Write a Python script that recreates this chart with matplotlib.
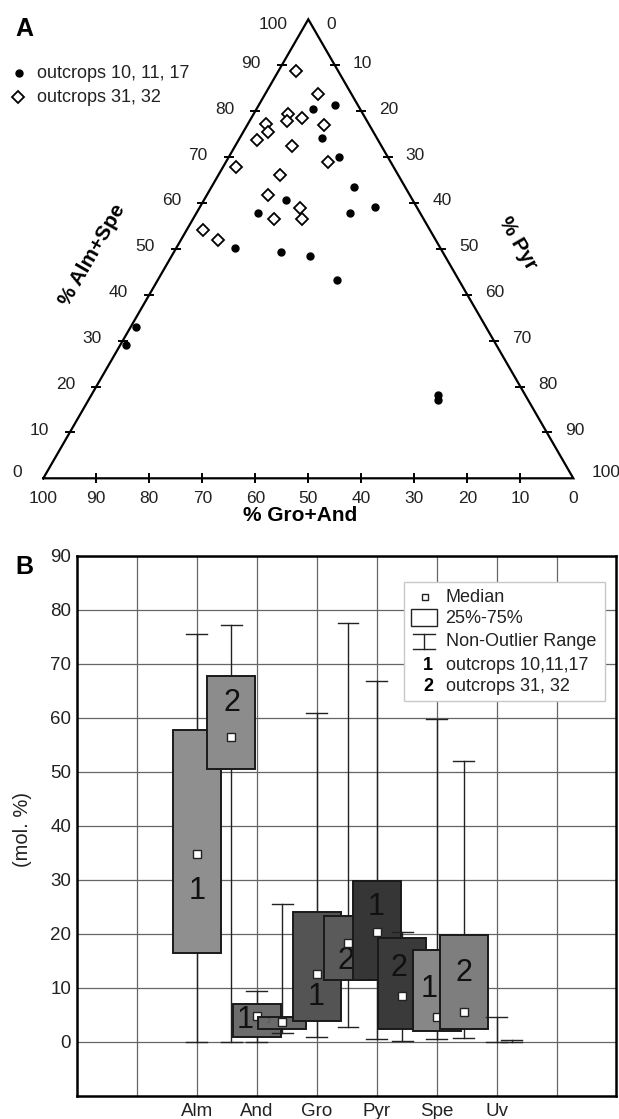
import numpy as np
import matplotlib.pyplot as plt
from matplotlib.patches import Rectangle

plt.rcParams['font.family'] = ['Liberation Sans', 'DejaVu Sans']

# --- A: garnet compositions (mol. %); Gro+And = 100 - (Alm+Spe) - Pyr ---
dots_alm = [80.5, 81.3, 74.2, 69.9, 63.5, 60.6, 57.9, 57.7, 59.2, 50.2,
            49.4, 48.4, 43.1, 18.1, 17.1, 33.0, 29.0]
dots_pyr = [10.6, 14.4, 15.5, 20.8, 26.9, 15.4, 11.6, 29.1, 33.0, 11.1,
            20.1, 26.1, 33.8, 65.5, 66.0, 1.0, 1.1]
dia_alm = [88.8, 83.7, 79.4, 78.6, 77.8, 76.9, 77.1, 75.5, 73.7, 72.4,
           67.9, 69.0, 66.1, 61.7, 58.8, 56.5, 56.6, 54.1, 51.9]
dia_pyr = [3.3, 9.9, 6.5, 9.45, 7.1, 14.5, 3.5, 4.7, 3.4, 10.7,
           2.4, 19.3, 11.6, 11.6, 19.0, 15.3, 20.6, 3.0, 7.1]

# --- B: box statistics per end-member ---
members = ['Alm', 'And', 'Gro', 'Pyr', 'Spe', 'Uv']
g1_min = [0.0, 0.0, 0.8, 0.5, 0.5, 0.0]
g1_q1 = [16.5, 0.9, 3.9, 11.5, 1.9, np.nan]
g1_med = [34.8, 4.7, 12.6, 20.3, 4.5, np.nan]
g1_q3 = [57.7, 6.9, 24.1, 29.8, 17.0, np.nan]
g1_max = [75.5, 9.4, 61.0, 66.9, 59.8, 4.6]
g2_min = [0.0, 1.7, 2.8, 0.2, 0.7, 0.0]
g2_q1 = [50.5, 2.4, 11.4, 2.3, 2.4, np.nan]
g2_med = [56.5, 3.6, 18.3, 8.5, 5.5, np.nan]
g2_q3 = [67.8, 4.5, 23.3, 19.2, 19.7, np.nan]
g2_max = [77.3, 25.5, 77.5, 20.3, 52.1, 0.3]

fill1 = ['#8f8f8f', '#6c6c6c', '#545454', '#363636', '#878787', '#888888']
fill2 = ['#8c8c8c', '#6a6a6a', '#5a5a5a', '#3a3a3a', '#7e7e7e', '#888888']
shift2 = [0.58, 0.43, 0.52, 0.43, 0.45, 0.25]
lab1_y = [28, 4.0, 8.2, 25, 9.8, None]
lab1_dx = [0, -0.2, 0, 0, -0.13, 0]
lab2_y = [62.7, 3.7, 15, 13.6, 12.7, None]
lab2_dx = [0, -0.23, -0.03, -0.05, 0, 0]

fig = plt.figure(figsize=(6.19, 11.19), dpi=100)

# ternary panel, 1 data unit = 530 px
S = 530.0
H = np.sqrt(3) / 2
ax_t = fig.add_axes([0, 1 - 540 / 1119, 1, 540 / 1119])
ax_t.set_xlim(-43.3 / S, (619 - 43.3) / S)
ax_t.set_ylim((478.3 - 540) / S, 478.3 / S)
ax_t.axis('off')


def tern_xy(alm, pyr):
    alm = np.asarray(alm, float)
    pyr = np.asarray(pyr, float)
    return (pyr + alm / 2) / 100, alm * H / 100


ax_t.plot([0, 1, 0.5, 0], [0, 0, H, 0], color='black', lw=1.6,
          solid_joinstyle='miter', zorder=2)
tk = 4 / S
for v in range(10, 100, 10):
    # left edge (Alm+Spe)
    x, y = v / 200, v * H / 100
    ax_t.plot([x - tk, x + tk], [y, y], color='black', lw=1.4)
    # right edge (Pyr)
    x, y = 0.5 + v / 200, (100 - v) * H / 100
    ax_t.plot([x - tk, x + tk], [y, y], color='black', lw=1.4)
    # bottom edge (Gro+And)
    x = 1 - v / 100
    ax_t.plot([x, x], [-tk, tk], color='black', lw=1.4)

for v in range(0, 101, 10):
    dy_l = {0: 6, 100: -5}.get(v, 2) / S
    dy_r = {0: -5, 100: 6}.get(v, 2) / S
    ax_t.text(v / 200 - 21 / S, v * H / 100 + dy_l, str(v), ha='right',
              va='center', fontsize=12.5, color='#222222')
    ax_t.text(0.5 + v / 200 + 18 / S, (100 - v) * H / 100 + dy_r, str(v),
              ha='left', va='center', fontsize=12.5, color='#222222')
    ax_t.text(1 - v / 100, -20 / S, str(v), ha='center', va='center',
              fontsize=12.5, color='#222222')

ax_t.text(0.0919, 0.4213, '% Alm+Spe', rotation=60, ha='center', va='center',
          fontsize=15, fontweight='bold')
ax_t.text(0.8957, 0.444, '% Pyr', rotation=-60, ha='center', va='center',
          fontsize=15, fontweight='bold')
ax_t.text((300 - 43.3) / S, -0.0711, '% Gro+And', ha='center', va='center',
          fontsize=15, fontweight='bold')
ax_t.text(-0.0364, 0.8477, 'A', ha='center', va='center', fontsize=18,
          fontweight='bold')

x, y = tern_xy(dots_alm, dots_pyr)
ax_t.plot(x, y, 'o', color='black', ms=5, zorder=3)
x, y = tern_xy(dia_alm, dia_pyr)
ax_t.plot(x, y, 'D', mfc='white', mec='black', ms=6.2, mew=1.3, zorder=3)

# legend of panel A
ax_t.plot(-24 / S, (478.3 - 73) / S, 'o', color='black', ms=5)
ax_t.plot(-25 / S, (478.3 - 97) / S, 'D', mfc='white', mec='black', ms=6.2,
          mew=1.3)
ax_t.text(-6.6 / S, (478.3 - 73) / S, 'outcrops 10, 11, 17', ha='left',
          va='center', fontsize=13, color='#222222')
ax_t.text(-6.6 / S, (478.3 - 97) / S, 'outcrops 31, 32', ha='left',
          va='center', fontsize=13, color='#222222')

# box plot panel
ax = fig.add_axes([76.7 / 619, (1119 - 1095.7) / 1119, 539.8 / 619,
                   539.7 / 1119])
ax.set_xlim(0, 9)
ax.set_ylim(-10, 90)
ax.set_xticks(range(1, 9))
ax.set_xticklabels([''] + members + [''])
ax.set_yticks(range(0, 100, 10))
ax.tick_params(length=0, labelsize=13.5, labelcolor='#222222')
ax.tick_params(axis='y', pad=4)
ax.tick_params(axis='x', pad=5)
ax.grid(True, color='#666666', lw=0.9)
ax.set_axisbelow(True)
for sp in ax.spines.values():
    sp.set_linewidth(1.8)
ax.text(-0.0995, 0.494, '(mol. %)', rotation=90, ha='center', va='center',
        fontsize=14.5, color='#222222', transform=ax.transAxes)
fig.text(24 / 619, 1 - 567.5 / 1119, 'B', ha='center', va='center',
         fontsize=18, fontweight='bold')

bw = 0.8
cap = 0.17
z = 3


def draw_group(xc, lo, q1, med, q3, hi, color, z):
    ax.plot([xc, xc], [lo, hi], color='#222222', lw=1.0, zorder=z)
    ax.plot([xc - cap, xc + cap], [hi, hi], color='#222222', lw=1.0, zorder=z)
    ax.plot([xc - cap, xc + cap], [lo, lo], color='#222222', lw=1.0, zorder=z)
    if np.isnan(q1):
        return
    ax.add_patch(Rectangle((xc - bw / 2, q1), bw, q3 - q1, facecolor=color,
                           edgecolor='#1a1a1a', lw=1.4, zorder=z + 0.1))
    ax.plot(xc, med, 's', mfc='white', mec='#222222', ms=5.5, mew=1.0,
            zorder=z + 0.3)


for i, m in enumerate(members):
    xc1 = i + 2
    xc2 = xc1 + shift2[i]
    draw_group(xc1, g1_min[i], g1_q1[i], g1_med[i], g1_q3[i], g1_max[i],
               fill1[i], z)
    if lab1_y[i] is not None:
        ax.text(xc1 + lab1_dx[i], lab1_y[i], '1', ha='center', va='center',
                fontsize=22, color='#111111', zorder=z + 0.2)
    z += 1
    draw_group(xc2, g2_min[i], g2_q1[i], g2_med[i], g2_q3[i], g2_max[i],
               fill2[i], z)
    if lab2_y[i] is not None:
        small = (m == 'And')
        ax.text(xc2 + lab2_dx[i], lab2_y[i], '2', ha='center', va='center',
                fontsize=5 if small else 22,
                color='#555555' if small else '#111111', zorder=z + 0.2)
    z += 1

# legend of panel B
ax.add_patch(Rectangle((5.45, 63.1), 3.36, 22.0, facecolor='white',
                       edgecolor='#c8c8c8', lw=1.0, zorder=50))
ax.plot(5.805, 82.4, 's', mfc='white', mec='#222222', ms=5, mew=1.0,
        zorder=51)
ax.add_patch(Rectangle((5.567, 77.0), 0.443, 3.1, facecolor='white',
                       edgecolor='#222222', lw=1.0, zorder=51))
ax.plot([5.79, 5.79], [72.7, 75.6], color='#222222', lw=1.0, zorder=51)
ax.plot([5.61, 5.97], [75.6, 75.6], color='#222222', lw=1.0, zorder=51)
ax.plot([5.61, 5.97], [72.7, 72.7], color='#222222', lw=1.0, zorder=51)
leg_y = [82.4, 78.4, 74.1, 69.8, 65.8]
leg_txt = ['Median', '25%-75%', 'Non-Outlier Range', 'outcrops 10,11,17',
           'outcrops 31, 32']
for yy, t in zip(leg_y, leg_txt):
    ax.text(6.15, yy, t, ha='left', va='center', fontsize=13,
            color='#222222', zorder=52)
ax.text(5.94, leg_y[3], '1', ha='right', va='center', fontsize=13,
        fontweight='bold', zorder=52)
ax.text(5.94, leg_y[4], '2', ha='right', va='center', fontsize=13,
        fontweight='bold', zorder=52)

fig.savefig('out.png', dpi=100)
